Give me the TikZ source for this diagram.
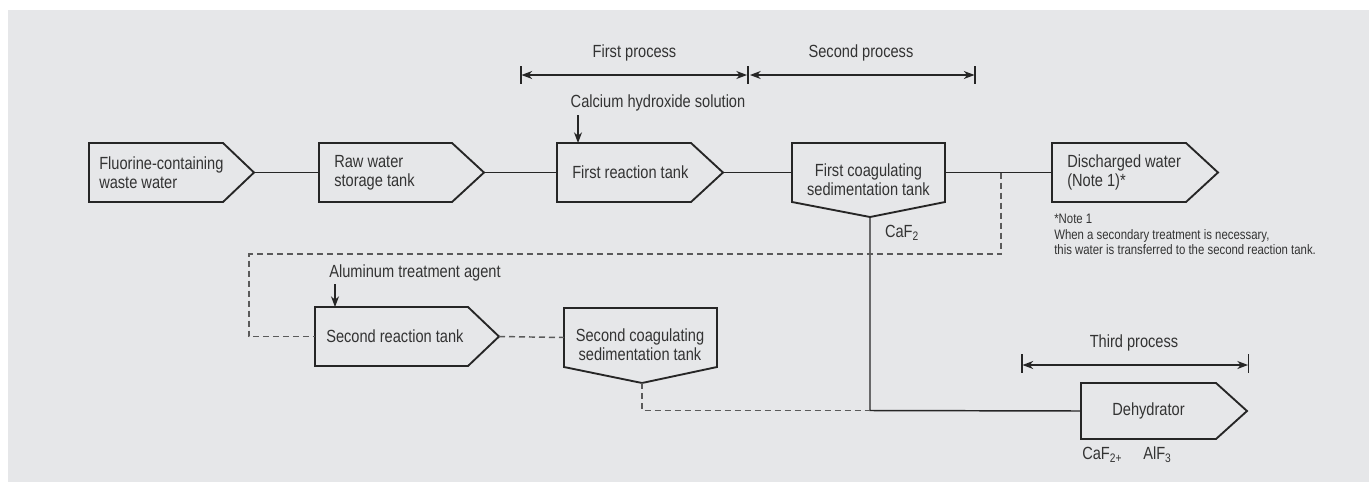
\documentclass[tikz,border=0pt]{standalone}
\usepackage{fontspec}
\setmainfont[FakeStretch=0.83]{Liberation Sans}
\usetikzlibrary{arrows.meta}
\definecolor{bgc}{HTML}{E6E7E9}
\definecolor{linec}{HTML}{262626}
\definecolor{dashc}{HTML}{5A5A5A}
\definecolor{txtc}{HTML}{333333}
\newcommand\rtank[6]{% name, left, flat end, tip, top, bottom
  \draw[tank] (#2,#5) -- (#3,#5) -- (#4,{(#5+#6)/2}) -- (#3,#6) -- (#2,#6) -- cycle;
  \coordinate (#1-in) at (#2,{(#5+#6)/2});
  \coordinate (#1-out) at (#4,{(#5+#6)/2});
  \coordinate (#1-top) at (#2,#5);}
\newcommand\dtank[7]{% name, left, right, top, side bottom, point x, point y
  \draw[tank] (#2,#4) -- (#3,#4) -- (#3,#5) -- (#6,#7) -- (#2,#5) -- cycle;
  \coordinate (#1-in) at (#2,{(#4+#5)/2});
  \coordinate (#1-out) at (#3,{(#4+#5)/2});
  \coordinate (#1-bot) at (#6,#7);}
\begin{document}
\begin{tikzpicture}[x=0.75pt,y=-0.75pt,
  tank/.style={draw=linec, line width=1.4pt, line join=miter},
  flow/.style={draw=linec, line width=1.1pt},
  dflow/.style={draw=dashc, line width=1.1pt, dash pattern=on 4.5pt off 3pt},
  lbl/.style={text=txtc, font=\fontsize{13.2}{14}\selectfont, inner sep=0pt},
  note/.style={text=txtc, font=\fontsize{10.3}{11.6}\selectfont, inner sep=0pt, align=left},
  tipdown/.style={draw=linec, line width=0.9pt, -{Stealth[length=8pt,width=6pt,inset=2.5pt]}},
  spanarrow/.style={draw=linec, line width=0.9pt, {Stealth[length=8pt,width=6pt,inset=2.5pt]}-{Stealth[length=8pt,width=6pt,inset=2.5pt]}},
  tick/.style={draw=linec, line width=0.9pt}]
\useasboundingbox (0,0) rectangle (1372,483);
\fill[white] (0,0) rectangle (1372,483);
\fill[bgc] (8,10) rectangle (1369,482);

% tanks
\rtank{fw}{89}{223}{254}{143}{202}
\rtank{raw}{319}{452}{484}{143}{202}
\rtank{r1}{557}{691}{723}{143}{202}
\dtank{c1}{792}{945}{143}{202}{870}{217}
\rtank{dis}{1052}{1186}{1218}{143}{202}
\rtank{r2}{315}{468}{499}{307}{366}
\dtank{c2}{564}{717}{308}{367}{642}{383}
\rtank{deh}{1081}{1216}{1247}{383}{439}

% tank texts
\node[lbl, anchor=west, align=left] (tfw) at (99,172.5) {Fluorine-containing\\waste water};
\node[lbl, anchor=west, align=left] (traw) at (334,172.5) {Raw water\\storage tank};
\node[lbl, anchor=west] (tr1) at (572,172.5) {First reaction tank};
\node[lbl, align=center] (tc1) at (868.5,180) {First coagulating\\sedimentation tank};
\node[lbl, anchor=west, align=left] (tdis) at (1067,172.5) {Discharged water\\(Note 1)*};
\node[lbl, anchor=west] (tr2) at (326,336.5) {Second reaction tank};
\node[lbl, align=center] (tc2) at (640,345) {Second coagulating\\sedimentation tank};
\node[lbl] (tdeh) at (1148.5,411) {Dehydrator};

% solid flow
\draw[flow] (fw-out) -- (raw-in);
\draw[flow] (raw-out) -- (r1-in);
\draw[flow] (r1-out) -- (c1-in);
\draw[flow] (c1-out) -- (dis-in);
\coordinate (jd) at (870,410.5);
\draw[flow] (c1-bot) -- (jd) -- (deh-in);

% dashed flow
\coordinate (j1) at (1001,172.5);
\coordinate (j2) at (1001,254);
\coordinate (j3) at (249,254);
\coordinate (j4) at (249,336.5);
\draw[dflow] (j1) -- (j2) -- (j3) -- (j4) -- (r2-in);
\draw[dflow] (r2-out) -- (c2-in);
\coordinate (j5) at (642,410.5);
\draw[dflow] (c2-bot) -- (j5) -- (jd);

% additives
\node[lbl] (ca) at (658,103) {Calcium hydroxide solution};
\coordinate (caa) at (578,115);
\draw[tipdown] (caa) -- (578,143);
\node[lbl] (al) at (415,272.5) {Aluminum treatment agent};
\coordinate (ala) at (335,284);
\draw[tipdown] (ala) -- (335,307);

% products
\node[lbl] (caf) at (902,233) {CaF\textsubscript{2}};
\node[lbl, anchor=west] (caf2) at (1082,455) {CaF\textsubscript{2+}};
\node[lbl, anchor=west] (alf) at (1143,455) {AlF\textsubscript{3}};

% note
\node[note, anchor=north west] (nt) at (1054,214) {*Note 1\\When a secondary treatment is necessary,\\this water is transferred to the second reaction tank.};

% process spans
\coordinate (s1a) at (521,75); \coordinate (s1b) at (748,75);
\coordinate (s2a) at (748,75); \coordinate (s2b) at (975,75);
\draw[tick] (521,66) -- (521,84);
\draw[tick] (748,66) -- (748,84);
\draw[tick] (975,66) -- (975,84);
\draw[spanarrow] (521.5,75) -- (747,75);
\draw[spanarrow] (750,75) -- (974.5,75);
\node[lbl] (p1) at (634.5,53) {First process};
\node[lbl] (p2) at (861,53) {Second process};
\draw[tick] (1022,354) -- (1022,373);
\draw[tick] (1248.5,354) -- (1248.5,373);
\draw[spanarrow] (1022.5,365) -- (1248,365);
\node[lbl] (p3) at (1134,342.5) {Third process};
\end{tikzpicture}
\end{document}
